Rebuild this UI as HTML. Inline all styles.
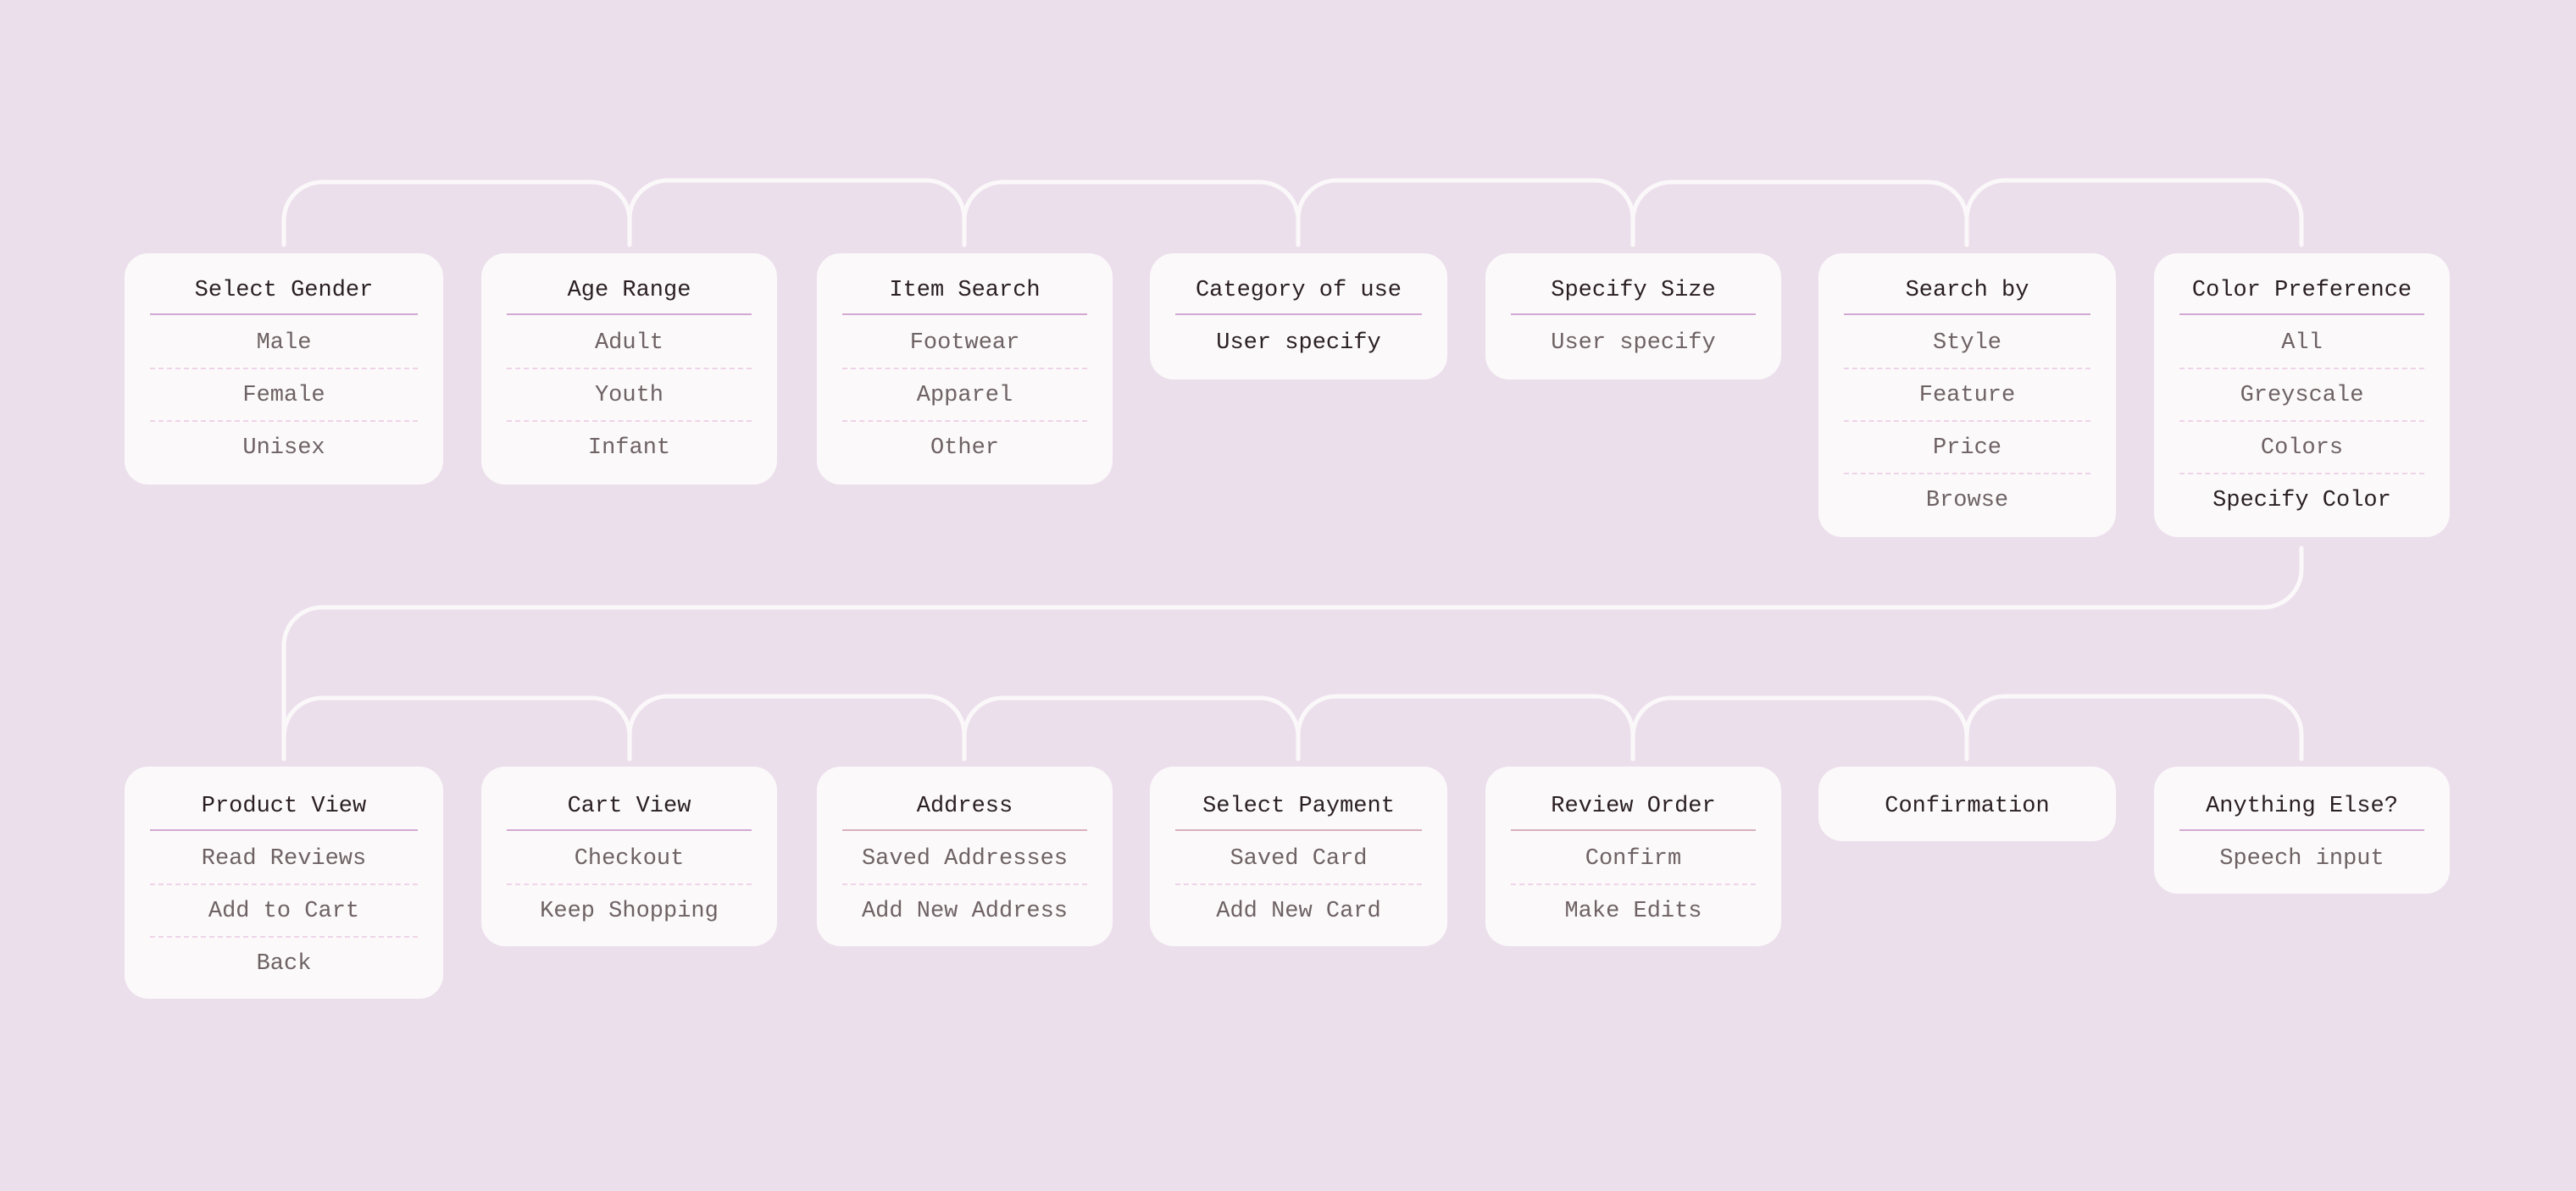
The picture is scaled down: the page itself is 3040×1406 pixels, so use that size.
<!DOCTYPE html>
<html><head><meta charset="utf-8"><style>
html,body{margin:0;padding:0;}
body{width:3040px;height:1406px;background:#ecdfec;position:relative;overflow:hidden;font-family:"Liberation Mono",monospace;}
svg{position:absolute;left:0;top:0;}
.b{position:absolute;background:#fbf9fa;border-radius:28px;box-sizing:border-box;padding:15px 30px 10px;text-align:center;}
.h{height:58px;line-height:58px;font-size:27px;color:#2a1f22;border-bottom:2px solid #d3a9d3;box-sizing:border-box;}
.i{height:62px;line-height:66px;font-size:27px;color:#6e6264;box-sizing:border-box;}
.i+.i{border-top:2px dashed #efd3e8;line-height:62px;}
.d{color:#2a1f22;}
.c .h{border-bottom:none;}
</style></head><body>
<svg width="3040" height="1406" fill="none" stroke="#fbf8fa" stroke-width="5" stroke-linecap="round">
<path d="M335 289 V260 A45 45 0 0 1 380 215 H698 A45 45 0 0 1 743 260 V289"/>
<path d="M743 289 V258 A45 45 0 0 1 788 213 H1093 A45 45 0 0 1 1138 258 V289"/>
<path d="M1138 289 V260 A45 45 0 0 1 1183 215 H1487 A45 45 0 0 1 1532 260 V289"/>
<path d="M1532 289 V258 A45 45 0 0 1 1577 213 H1882 A45 45 0 0 1 1927 258 V289"/>
<path d="M1927 289 V260 A45 45 0 0 1 1972 215 H2276 A45 45 0 0 1 2321 260 V289"/>
<path d="M2321 289 V258 A45 45 0 0 1 2366 213 H2671 A45 45 0 0 1 2716 258 V289"/>
<path d="M2716 647 V672 A45 45 0 0 1 2671 717 H380 A45 45 0 0 0 335 762 V896"/>
<path d="M335 896 V869 A45 45 0 0 1 380 824 H698 A45 45 0 0 1 743 869 V896"/>
<path d="M743 896 V867 A45 45 0 0 1 788 822 H1093 A45 45 0 0 1 1138 867 V896"/>
<path d="M1138 896 V869 A45 45 0 0 1 1183 824 H1487 A45 45 0 0 1 1532 869 V896"/>
<path d="M1532 896 V867 A45 45 0 0 1 1577 822 H1882 A45 45 0 0 1 1927 867 V896"/>
<path d="M1927 896 V869 A45 45 0 0 1 1972 824 H2276 A45 45 0 0 1 2321 869 V896"/>
<path d="M2321 896 V867 A45 45 0 0 1 2366 822 H2671 A45 45 0 0 1 2716 867 V896"/>
</svg>

<div class="b" style="left:147px;top:299px;width:376px;height:273px"><div class="h">Select Gender</div><div class="i">Male</div><div class="i">Female</div><div class="i">Unisex</div></div>
<div class="b" style="left:568px;top:299px;width:349px;height:273px"><div class="h">Age Range</div><div class="i">Adult</div><div class="i">Youth</div><div class="i">Infant</div></div>
<div class="b" style="left:964px;top:299px;width:349px;height:273px"><div class="h">Item Search</div><div class="i">Footwear</div><div class="i">Apparel</div><div class="i">Other</div></div>
<div class="b" style="left:1357px;top:299px;width:351px;height:149px"><div class="h">Category of use</div><div class="i d">User specify</div></div>
<div class="b" style="left:1753px;top:299px;width:349px;height:149px"><div class="h">Specify Size</div><div class="i">User specify</div></div>
<div class="b" style="left:2146px;top:299px;width:351px;height:335px"><div class="h">Search by</div><div class="i">Style</div><div class="i">Feature</div><div class="i">Price</div><div class="i">Browse</div></div>
<div class="b" style="left:2542px;top:299px;width:349px;height:335px"><div class="h">Color Preference</div><div class="i">All</div><div class="i">Greyscale</div><div class="i">Colors</div><div class="i d">Specify Color</div></div>

<div class="b" style="left:147px;top:905px;width:376px;height:274px;padding-top:18px"><div class="h">Product View</div><div class="i">Read Reviews</div><div class="i">Add to Cart</div><div class="i">Back</div></div>
<div class="b" style="left:568px;top:905px;width:349px;height:212px;padding-top:18px"><div class="h">Cart View</div><div class="i">Checkout</div><div class="i">Keep Shopping</div></div>
<div class="b" style="left:964px;top:905px;width:349px;height:212px;padding-top:18px"><div class="h" style="border-bottom-color:#d9b0bd">Address</div><div class="i">Saved Addresses</div><div class="i">Add New Address</div></div>
<div class="b" style="left:1357px;top:905px;width:351px;height:212px;padding-top:18px"><div class="h" style="border-bottom-color:#d9b0bd">Select Payment</div><div class="i">Saved Card</div><div class="i">Add New Card</div></div>
<div class="b" style="left:1753px;top:905px;width:349px;height:212px;padding-top:18px"><div class="h" style="border-bottom-color:#d9b0bd">Review Order</div><div class="i">Confirm</div><div class="i">Make Edits</div></div>
<div class="b c" style="left:2146px;top:905px;width:351px;height:88px;padding-top:18px"><div class="h">Confirmation</div></div>
<div class="b" style="left:2542px;top:905px;width:349px;height:150px;padding-top:18px"><div class="h">Anything Else?</div><div class="i">Speech input</div></div>
</body></html>
